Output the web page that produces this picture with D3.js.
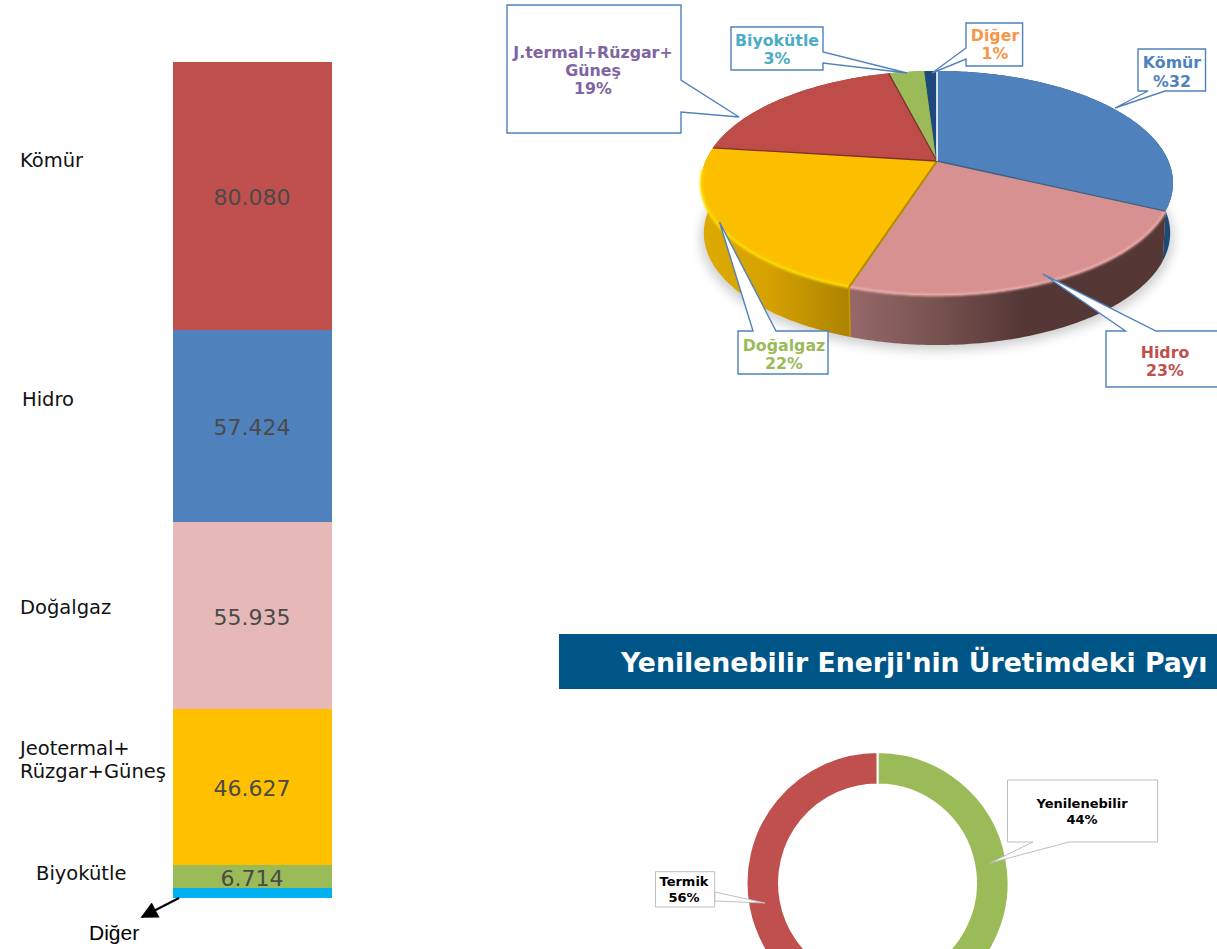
<!DOCTYPE html>
<html lang="tr">
<head>
<meta charset="utf-8">
<script src="https://cdn.jsdelivr.net/npm/d3@7/dist/d3.min.js"></script>
<style>
html,body{margin:0;padding:0;background:#fff;overflow:hidden}
svg{display:block}
text{font-family:"DejaVu Sans",Verdana,sans-serif}
</style>
</head>
<body>
<svg id="chart" width="1217" height="949"></svg>
<script>
// ---------- data ----------
const barCategories = ["Kömür","Hidro","Doğalgaz","Jeotermal+Rüzgar+Güneş","Biyokütle","Diğer"];
const barValues = [80.080,57.424,55.935,46.627,6.714,3.0];
const barLabels = ["80.080","57.424","55.935","46.627","6.714",""];
const barColors = ["#c0504d","#4f81bd","#e6b9b8","#ffc000","#9bbb59","#00b0f0"];

const pieCategories = ["Kömür","Hidro","Doğalgaz","J.termal+Rüzgar+Güneş","Biyokütle","Diğer"];
const pieValues = [32,23,22,19,3,1];
const pieColors = ["#4f81bd","#d79190","#fbbf00","#be4d4a","#9bbb59","#1f497d"];

const donutCategories = ["Yenilenebilir","Termik"];
const donutValues = [44,56];
const donutColors = ["#9bbb59","#c0504d"];

const titleText = "Yenilenebilir Enerji'nin Üretimdeki Payı";

// ---------- annotation layout (not data) ----------
const barSideLabels = [
  {lines:["Kömür"],x:20,y:[167]},
  {lines:["Hidro"],x:22,y:[406]},
  {lines:["Doğalgaz"],x:20,y:[614]},
  {lines:["Jeotermal+","Rüzgar+Güneş"],x:20,y:[755,778]},
  {lines:["Biyokütle"],x:36,y:[880]}
];
const pieCallouts = [
  {box:[1138,49,1205.5,91],ptr:[[1165,91],[1115,108],[1148,91]],side:"b",lines:["Kömür","%32"],tx:1172,ty:[68,87],color:"#4f81bd"},
  {box:[1106,331,1225,387],ptr:[[1125.5,331],[1043,274],[1156,331]],side:"t",lines:["Hidro","23%"],tx:1165,ty:[358,376],color:"#c0504d"},
  {box:[738,331,828,374],ptr:[[753,331],[719.5,222],[776,331]],side:"t",lines:["Doğalgaz","22%"],tx:784,ty:[351,369],color:"#9bbb59"},
  {box:[507,5,681,133],ptr:[[681,112],[739,117],[681,80]],side:"r",lines:["J.termal+Rüzgar+","Güneş","19%"],tx:593,ty:[58,76,94],color:"#8064a2"},
  {box:[731,27,823,70],ptr:[[823,63],[907,73],[823,52]],side:"r",lines:["Biyokütle","3%"],tx:777,ty:[46,64],color:"#4bacc6"},
  {box:[966,23,1022.6,66],ptr:[[966,59],[932,73],[966,48]],side:"l",lines:["Diğer","1%"],tx:995,ty:[41,59],color:"#f79646"}
];
const donutCallouts = [
  {box:[1007.5,780,1157.6,842],ptr:[[1069,842],[990,863],[1033,842]],side:"b",lines:["Yenilenebilir","44%"],tx:1082,ty:[808,824]},
  {box:[655.5,871.7,714.7,907],ptr:[[714.7,892],[765,903],[714.7,901]],side:"r",lines:["Termik","56%"],tx:684,ty:[886,902]}
];

const svg = d3.select("#chart");
const defs = svg.append("defs");

// ---------- stacked bar ----------
const total = d3.sum(barValues);
const yBar = d3.scaleLinear().domain([0,total]).range([62,898]);
let cum = 0;
const stack = barValues.map((v,i)=>{const s={v,i,y0:cum,y1:cum+v};cum+=v;return s;});
const gBar = svg.append("g");
gBar.selectAll("rect").data(stack).join("rect")
  .attr("x",173).attr("width",159).attr("shape-rendering","crispEdges")
  .attr("y",d=>yBar(d.y0)).attr("height",d=>yBar(d.y1)-yBar(d.y0))
  .attr("fill",d=>barColors[d.i]);
gBar.selectAll("text.val").data(stack).join("text").attr("class","val")
  .attr("x",252).attr("y",d=>(yBar(d.y0)+yBar(d.y1))/2+1)
  .attr("dy","0.36em").attr("text-anchor","middle")
  .attr("font-size",22).attr("fill","#4a4a4a")
  .text(d=>barLabels[d.i]);
barSideLabels.forEach(l=>l.lines.forEach((t,i)=>{
  gBar.append("text").attr("x",l.x).attr("y",l.y[i]).attr("font-size",19.5).attr("fill","#111").text(t);
}));
// arrow + Diğer
defs.append("marker").attr("id","ah").attr("viewBox","0 0 10 10").attr("refX",9).attr("refY",5)
  .attr("markerUnits","userSpaceOnUse").attr("markerWidth",21).attr("markerHeight",17).attr("orient","auto")
  .append("path").attr("d","M0,0L10,5L0,10Z").attr("fill","#000");
gBar.append("line").attr("x1",179).attr("y1",898).attr("x2",142).attr("y2",917)
  .attr("stroke","#000").attr("stroke-width",2.2).attr("marker-end","url(#ah)");
gBar.append("text").attr("x",89).attr("y",940).attr("font-size",21)
  .style("font-family","'Liberation Sans',Arial,sans-serif").attr("fill","#000").text(barCategories[5]);

// ---------- 3D pie ----------
const P = {cx:937,cy:161,A:107.7,B:231.4,k:0.1964,depth:50};
function project(theta){
  const X=Math.sin(theta), Z=-Math.cos(theta), w=1-P.k*Z;
  return [P.cx+P.B*X/w, P.cy+P.A*Z/w];
}
const pieArcs = d3.pie().sort(null)(pieValues);
function rim(a){
  const n=Math.max(4,Math.ceil((a.endAngle-a.startAngle)*60)),pts=[];
  for(let i=0;i<=n;i++) pts.push(project(a.startAngle+(a.endAngle-a.startAngle)*i/n));
  return pts;
}
const line = d3.line();

// gradients for sides
function grad(id,x1,x2,stops){
  const g=defs.append("linearGradient").attr("id",id).attr("gradientUnits","userSpaceOnUse")
    .attr("x1",x1).attr("x2",x2).attr("y1",0).attr("y2",0);
  stops.forEach(s=>g.append("stop").attr("offset",s[0]).attr("stop-color",s[1]));
}
grad("sideH",850,1160,[[0,"#97686a"],[0.25,"#7a5552"],[0.55,"#553836"],[1,"#553836"]]);
grad("sideD",705,850,[[0,"#dcaa00"],[0.45,"#d5a100"],[1,"#ac8300"]]);
const sideFill=["#1c4a78","url(#sideH)","url(#sideD)","#8a3a38","#6f8a3f","#15335a"];
const rimColor=["#4f81bd","#eeb0ae","#ffe100","#be4d4a","#9bbb59","#1f497d"];

defs.append("filter").attr("id","blurS").attr("x","-20%").attr("y","-20%").attr("width","140%").attr("height","140%")
  .append("feGaussianBlur").attr("stdDeviation",6);
defs.append("filter").attr("id","blurR").attr("x","-5%").attr("y","-5%").attr("width","110%").attr("height","110%")
  .append("feGaussianBlur").attr("stdDeviation",0.9);

const gPie = svg.append("g");
// soft shadow under the pie
const allRim = rim({startAngle:0,endAngle:2*Math.PI}).map(p=>[p[0],p[1]+P.depth+5]);
gPie.append("path").attr("d",line(allRim)+"Z").attr("fill","#000").attr("opacity",0.2).attr("filter","url(#blurS)");
// sides
gPie.selectAll("path.side").data(pieArcs).join("path").attr("class","side")
  .attr("d",a=>{
    const r=rim(a);
    const low=r.map(p=>[p[0]+(P.cx-p[0])*0.012,p[1]+P.depth]).reverse();
    return line(r.concat(low))+"Z";
  })
  .attr("fill",(a,i)=>sideFill[i]);
// tops
gPie.selectAll("path.top").data(pieArcs).join("path").attr("class","top")
  .attr("d",a=>line([[P.cx,P.cy]].concat(rim(a)))+"Z")
  .attr("fill",(a,i)=>pieColors[i]);
// rim highlights on the near edge only
gPie.selectAll("path.rim").data(pieArcs.slice(1,3)).join("path").attr("class","rim")
  .attr("d",a=>line(rim({startAngle:a.startAngle,endAngle:a.index===2?a.endAngle-0.2:a.endAngle})))
  .attr("fill","none").attr("stroke",a=>rimColor[a.index]).attr("stroke-width",2.4).attr("filter","url(#blurR)");
// radial edges
gPie.selectAll("line.edge").data(pieArcs).join("line").attr("class","edge")
  .attr("x1",P.cx).attr("y1",P.cy)
  .attr("x2",a=>project(a.startAngle)[0]).attr("y2",a=>project(a.startAngle)[1])
  .attr("stroke",(a,i)=>["#eaf0f8","#3d5f80","#b08c00","#7d3230","#7d3230","#1f497d"][i])
  .attr("stroke-width",(a,i)=>i===2?2:1.3);
gPie.append("line").attr("x1",P.cx).attr("x2",P.cx).attr("y1",P.cy).attr("y2",P.cy-90)
  .attr("stroke","#e6edf5").attr("stroke-width",1.5);
// vertical edge between doğalgaz and hidro
const vEdge = project(pieArcs[2].startAngle);
gPie.append("line").attr("x1",vEdge[0]).attr("y1",vEdge[1]).attr("x2",vEdge[0]+1).attr("y2",vEdge[1]+P.depth)
  .attr("stroke","#c79a00").attr("stroke-width",1.6);

function callout(g,c,stroke,sw){
  const [x0,y0,x1,y1]=c.box,[a,t,b]=c.ptr;
  let pts;
  if(c.side==="b") pts=[[x0,y0],[x1,y0],[x1,y1],a,t,b,[x0,y1]];
  else if(c.side==="t") pts=[[x0,y0],a,t,b,[x1,y0],[x1,y1],[x0,y1]];
  else if(c.side==="r") pts=[[x0,y0],[x1,y0],b,t,a,[x1,y1],[x0,y1]];
  else pts=[[x0,y0],[x1,y0],[x1,y1],[x0,y1],a,t,b];
  g.append("path").attr("d",line(pts)+"Z").attr("fill","#fff").attr("stroke",stroke).attr("stroke-width",sw);
}
pieCallouts.forEach(c=>{
  callout(gPie,c,"#4f81bd",1.4);
  c.lines.forEach((t,i)=>gPie.append("text").attr("x",c.tx).attr("y",c.ty[i]).attr("text-anchor","middle")
    .attr("font-size",15.8).attr("font-weight","bold").attr("fill",c.color).text(t));
});

// ---------- title banner ----------
svg.append("rect").attr("x",559).attr("y",634).attr("width",658).attr("height",55).attr("fill","#005587");
svg.append("text").attr("x",621).attr("y",672).attr("font-size",26.7).attr("font-weight","bold").attr("fill","#fff").text(titleText);

// ---------- donut ----------
const gD = svg.append("g").attr("transform","translate(877.5,883)");
const donutArc = d3.arc().innerRadius(98.5).outerRadius(131);
gD.selectAll("path").data(d3.pie().sort(null)(donutValues)).join("path")
  .attr("d",donutArc).attr("fill",(d,i)=>donutColors[i]).attr("stroke","#fff").attr("stroke-width",2);
const gDC = svg.append("g");
donutCallouts.forEach(c=>{
  callout(gDC,c,"#bfbfbf",1);
  c.lines.forEach((t,i)=>gDC.append("text").attr("x",c.tx).attr("y",c.ty[i]).attr("text-anchor","middle")
    .attr("font-size",13).attr("font-weight","bold").attr("fill","#000").text(t));
});
</script>
</body>
</html>
